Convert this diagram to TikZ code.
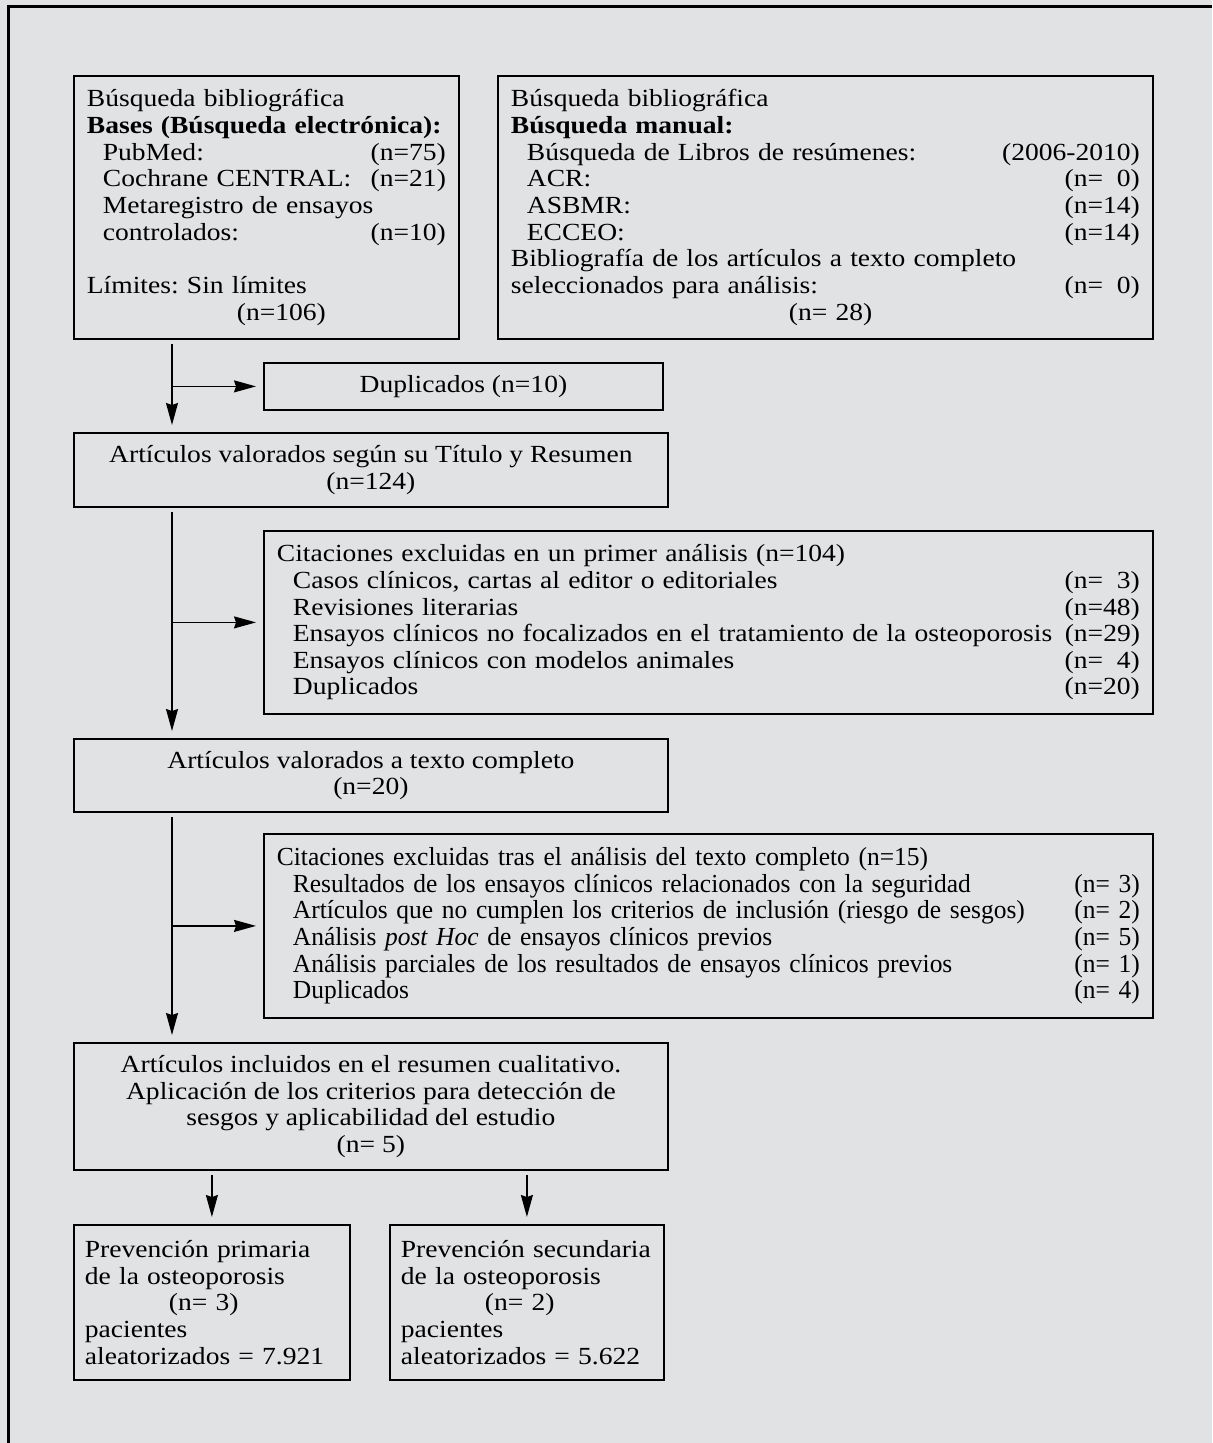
\documentclass[tikz,border=0pt]{standalone}
\usepackage{fontspec}
\setmainfont{Liberation Serif}[FakeStretch=1.12]
\newfontfamily\condensada{Liberation Serif}[FakeStretch=0.98]
\usetikzlibrary{arrows.meta}
\definecolor{fondo}{RGB}{225,226,228}
\tikzset{
	caja/.style={draw, line width=0.9pt, fill=fondo, anchor=north west, inner xsep=6.5pt, inner ysep=0pt},
	flecha/.style={line width=0.7pt, -{Stealth[length=11pt,width=6pt,inset=1pt]}, shorten >=3.5pt, shorten <=2pt}
}
\newcommand{\ind}{\hspace*{8pt}}
\newcommand{\cero}{\phantom{0}}
\frenchspacing
\hyphenpenalty=10000

\begin{document}
\begin{tikzpicture}[x=0.5pt, y=-0.5pt, font=\fontsize{12.3pt}{13.33pt}\selectfont]
		\useasboundingbox (0,0) rectangle (1212,1443);
		\fill[fondo] (0,0) rectangle (1212,1443);
		\draw[line width=1.5pt] (8,1443) -- (8,7) -- (1212,7);

		% busqueda
		\node[caja, text width=179.5pt, minimum height=131.5pt, align=left] (bases) at (73,75) {
			Búsqueda bibliográfica\\
			\textbf{Bases (Búsqueda electrónica):}\\
			\ind PubMed:\hfill(n=75)\\
			\ind Cochrane CENTRAL:\hfill(n=21)\\
			\ind Metaregistro de ensayos\\
			\ind controlados:\hfill(n=10)\\
			\mbox{}\\
			Límites: Sin límites\\
			\hspace*{75pt}(n=106)};
		\node[caja, text width=314.5pt, minimum height=131.5pt, align=left] (manual) at (497,75) {
			Búsqueda bibliográfica\\
			\textbf{Búsqueda manual:}\\
			\ind Búsqueda de Libros de resúmenes:\hfill(2006-2010)\\
			\ind ACR:\hfill(n=\cero0)\\
			\ind ASBMR:\hfill(n=14)\\
			\ind ECCEO:\hfill(n=14)\\
			Bibliografía de los artículos a texto completo\\
			seleccionados para análisis:\hfill(n=\cero0)\\
			\hspace*{139pt}(n= 28)};

		% columna central
		\node[caja, minimum width=199.5pt, minimum height=23.5pt] (dup) at (263,362) {Duplicados (n=10)};
		\node[caja, minimum width=297pt, minimum height=37pt, align=center] (valor1) at (73,432) {
			Artículos valorados según su Título y Resumen\\
			(n=124)};
		\node[caja, text width=431.5pt, minimum height=91.5pt, align=left] (excl1) at (263,530) {
			Citaciones excluidas en un primer análisis (n=104)\\
			\ind Casos clínicos, cartas al editor o editoriales\hfill(n=\cero3)\\
			\ind Revisiones literarias\hfill(n=48)\\
			\ind Ensayos clínicos no focalizados en el tratamiento de la osteoporosis\hfill(n=29)\\
			\ind Ensayos clínicos con modelos animales\hfill(n=\cero4)\\
			\ind Duplicados\hfill(n=20)};
		\node[caja, minimum width=297pt, minimum height=36.5pt, align=center] (valor2) at (73,738) {
			Artículos valorados a texto completo\\
			(n=20)};
		\node[caja, text width=431.5pt, minimum height=92pt, align=left,
			font=\condensada\fontsize{13pt}{13.33pt}\selectfont] (excl2) at (263,833) {
			Citaciones excluidas tras el análisis del texto completo (n=15)\\
			\ind Resultados de los ensayos clínicos relacionados con la seguridad\hfill(n= 3)\\
			\ind Artículos que no cumplen los criterios de inclusión (riesgo de sesgos)\hfill(n= 2)\\
			\ind Análisis \textit{post Hoc} de ensayos clínicos previos\hfill(n= 5)\\
			\ind Análisis parciales de los resultados de ensayos clínicos previos\hfill(n= 1)\\
			\ind Duplicados\hfill(n= 4)};
		\node[caja, minimum width=297pt, minimum height=63.5pt, align=center] (incl) at (73,1042) {
			Artículos incluidos en el resumen cualitativo.\\
			Aplicación de los criterios para detección de\\
			sesgos y aplicabilidad del estudio\\
			(n= 5)};

		% prevencion
		\node[caja, inner xsep=5.5pt, text width=127pt, minimum height=77.5pt, align=left] (prim) at (73,1224) {
			Prevención primaria\\
			de la osteoporosis\\
			\hspace*{42pt}(n= 3)\\
			pacientes\\
			aleatorizados = 7.921};
		\node[caja, inner xsep=5.5pt, text width=126pt, minimum height=77.5pt, align=left] (sec) at (389,1224) {
			Prevención secundaria\\
			de la osteoporosis\\
			\hspace*{42pt}(n= 2)\\
			pacientes\\
			aleatorizados = 5.622};

		% flechas
		\coordinate (eje) at (172,0);
		\draw[flecha] (bases.south -| eje) -- (valor1.north -| eje);
		\draw[flecha, shorten <=0pt] (dup.west -| eje) -- (dup.west);
		\draw[flecha] (valor1.south -| eje) -- (valor2.north -| eje);
		\draw[flecha, shorten <=0pt] (excl1.west -| eje) -- (excl1.west);
		\draw[flecha] (valor2.south -| eje) -- (incl.north -| eje);
		\draw[flecha, shorten <=0pt] (excl2.west -| eje) -- (excl2.west);
		\draw[flecha] (prim.north |- incl.south) -- (prim.north);
		\draw[flecha] (sec.north |- incl.south) -- (sec.north);
	\end{tikzpicture}
\end{document}
